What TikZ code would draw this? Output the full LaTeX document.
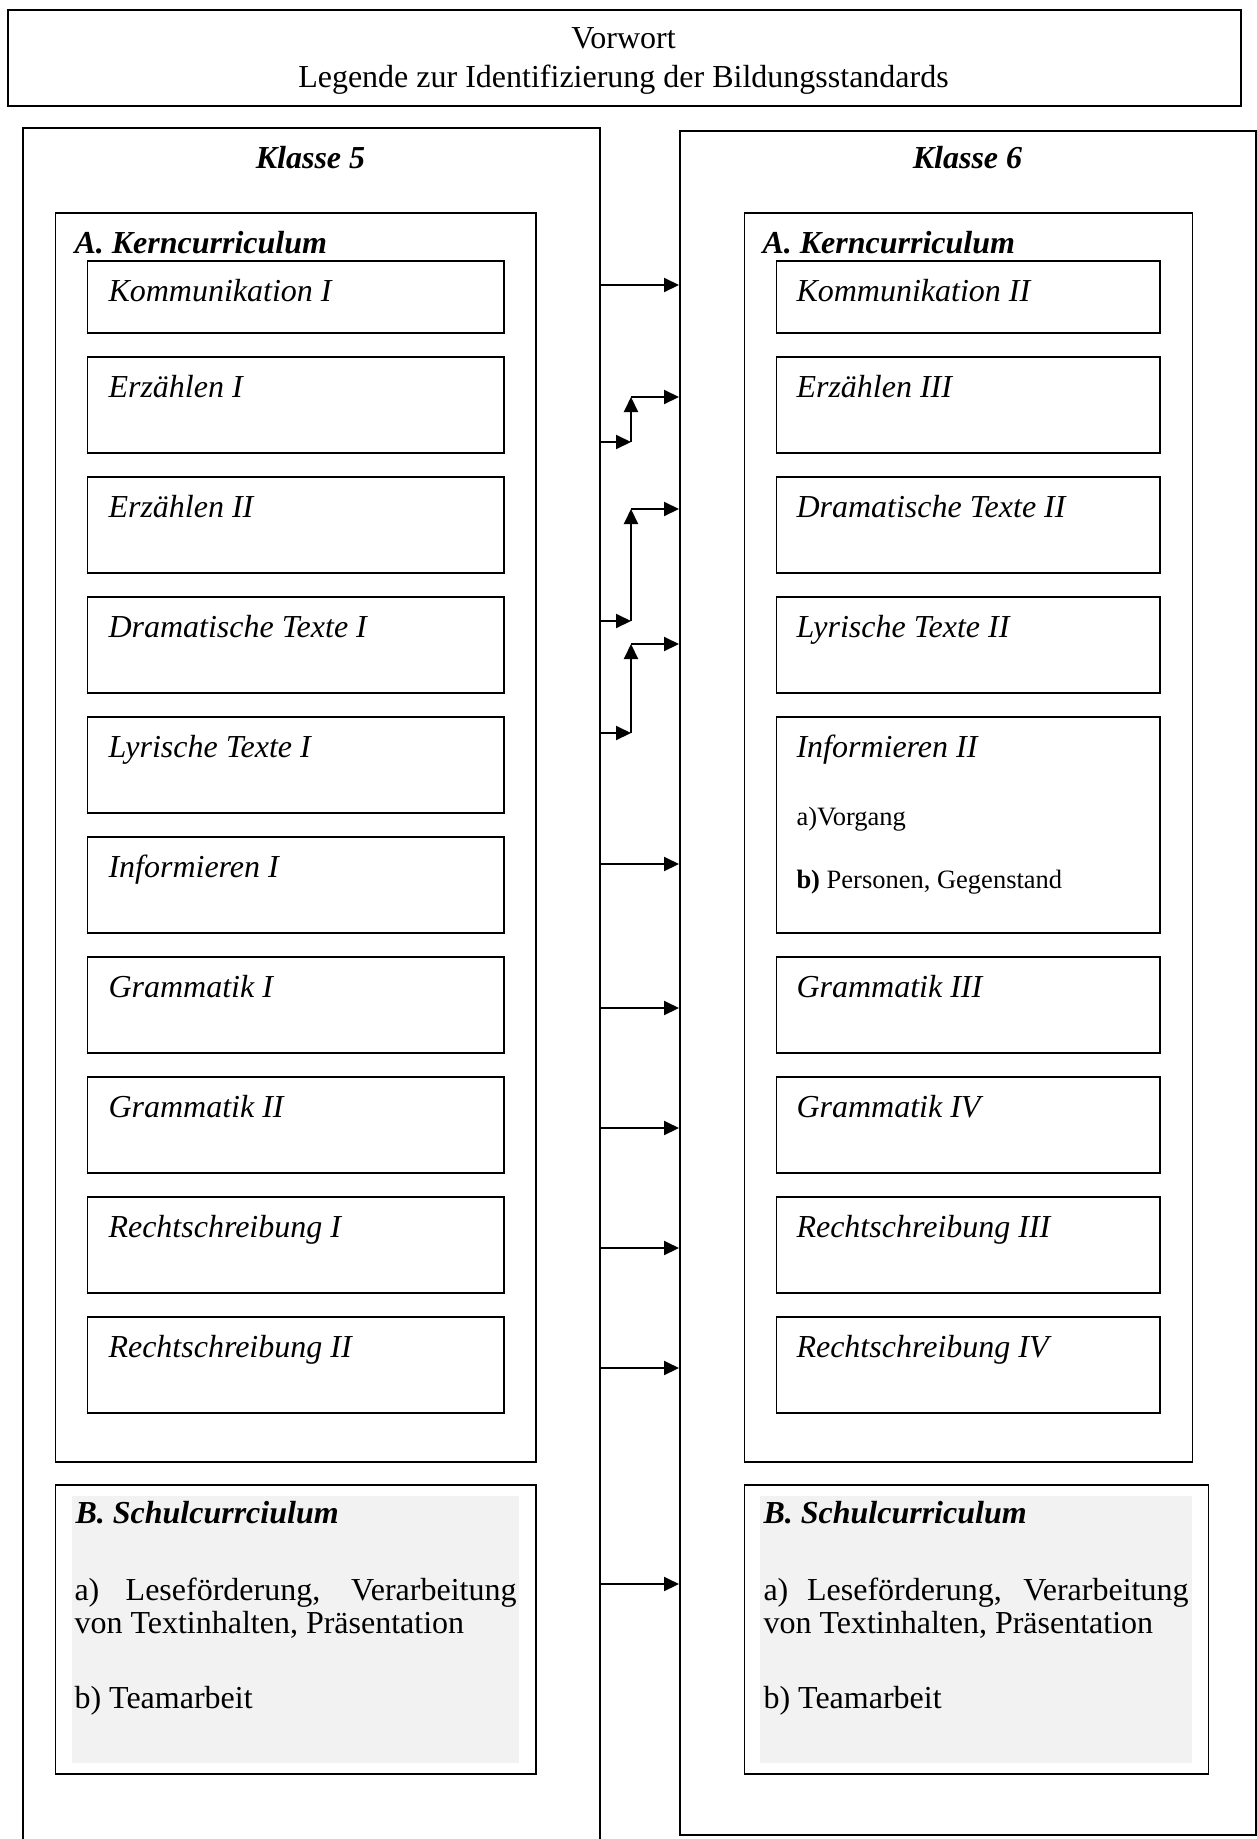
\documentclass[tikz,border=0pt]{standalone}
\usepackage{fontspec}
\setmainfont{Liberation Serif}
\usepackage{xcolor}
\usetikzlibrary{arrows.meta}
\usetikzlibrary{calc}

\definecolor{schulgrau}{HTML}{F2F2F2}
\def\px{0.4pt}

\tikzset{
  box/.style = {draw, line width=0.75pt, rectangle, inner sep=0pt, anchor=north west},
  thema/.style = {anchor=base west, inner sep=0pt, font=\itshape},
  kopf/.style = {inner sep=0pt, font=\bfseries\itshape},
  klein/.style = {anchor=base west, inner sep=0pt, font=\fontsize{10.6}{12}\selectfont},
  absatz/.style = {anchor=base west, inner sep=0pt, align=justify, font=\fontsize{12.8}{13.2}\selectfont},
  pfeil/.style = {line width=0.8pt, -{Triangle[length=6pt,width=5.6pt]}},
}

\begin{document}
\fontsize{12.8}{15.5}\selectfont
\begin{tikzpicture}[x=0.4pt, y=-0.4pt]
\useasboundingbox (0,0) rectangle (1256,1839);

% Kopfzeile
\node [box, minimum width=1233*\px, minimum height=96*\px] (vorwort) at (7,9) {};
\node [inner sep=0pt, align=center] (vorworttext) at (623.5,61)
  {Vorwort\\Legende zur Identifizierung der Bildungsstandards};

% Klassen
\node [box, minimum width=577*\px, minimum height=1800*\px] (k5) at (22,127) {};
\node [box, minimum width=576*\px, minimum height=1704*\px] (k6) at (679,130) {};
\node [kopf, anchor=base] (k5titel) at (310.5,169) {Klasse 5};
\node [kopf, anchor=base] (k6titel) at (967.5,169) {Klasse 6};

% A. Kerncurriculum
\node [box, minimum width=480.5*\px, minimum height=1249*\px] (kern5) at (54.5,212) {};
\node [box, minimum width=448*\px, minimum height=1249*\px] (kern6) at (743.5,212) {};
\node [kopf, anchor=base west] (kern5titel) at (74,253) {A. Kerncurriculum};
\node [kopf, anchor=base west] (kern6titel) at (762,253) {A. Kerncurriculum};

\foreach \n/\oben/\hoehe/\titel in {l1/260/72/Kommunikation I, l2/356/96/Erzählen I,
    l3/476/96/Erzählen II, l4/596/96/Dramatische Texte I, l5/716/96/Lyrische Texte I,
    l6/836/96/Informieren I, l7/956/96/Grammatik I, l8/1076/96/Grammatik II,
    l9/1196/96/Rechtschreibung I, l10/1316/96/Rechtschreibung II} {
  \node [box, minimum width=416.5*\px, minimum height=\hoehe*\px] (\n) at (86.5,\oben) {};
  \node [thema] at ($(\n.north west)+(21.5,41)$) {\titel};
}

\foreach \n/\oben/\hoehe/\titel in {r1/260/72/Kommunikation II, r2/356/96/Erzählen III,
    r3/476/96/Dramatische Texte II, r4/596/96/Lyrische Texte II, r5/716/216/Informieren II,
    r6/956/96/Grammatik III, r7/1076/96/Grammatik IV,
    r8/1196/96/Rechtschreibung III, r9/1316/96/Rechtschreibung IV} {
  \node [box, minimum width=383.5*\px, minimum height=\hoehe*\px] (\n) at (775.5,\oben) {};
  \node [thema] at ($(\n.north west)+(20.5,41)$) {\titel};
}
\node [klein] (vorgang) at ($(r5.north west)+(20.5,109)$) {a)Vorgang};
\node [klein] (personen) at ($(r5.north west)+(20.5,172)$) {\textbf{b)} Personen, Gegenstand};

% B. Schulcurriculum
\fill [schulgrau] (72,1496) rectangle (519,1763);
\fill [schulgrau] (760,1496) rectangle (1191.5,1763);
\node [box, minimum width=480.5*\px, minimum height=289*\px] (schul5) at (54.5,1484) {};
\node [box, minimum width=464*\px, minimum height=289*\px] (schul6) at (743.5,1484) {};
\node [kopf, anchor=base west] (schul5titel) at (75,1523) {B. Schulcurrciulum};
\node [kopf, anchor=base west] (schul6titel) at (763,1523) {B. Schulcurriculum};
\node [absatz, text width=442*\px] (lese5) at (74,1600)
  {a) Leseförderung, Verarbeitung von Textinhalten, Präsentation};
\node [absatz, text width=425*\px] (lese6) at (763,1600)
  {a) Leseförderung, Verarbeitung von Textinhalten, Präsentation};
\node [absatz] (team5) at (74,1708) {b) Teamarbeit};
\node [absatz] (team6) at (763,1708) {b) Teamarbeit};

% Pfeile
\foreach \y [count=\i] in {285,864,1008,1128,1248,1368,1584} {
  \coordinate (h\i) at (0,\y);
  \draw [pfeil] (k5.east |- h\i) -- (k6.west |- h\i);
}
\foreach \unten/\oben [count=\i] in {442/397, 621/509, 733/644} {
  \coordinate (u\i) at (631,\unten);
  \coordinate (o\i) at (631,\oben);
  \draw [pfeil] (k5.east |- u\i) -- (u\i);
  \draw [pfeil] (u\i) -- (o\i);
  \draw [pfeil] (o\i) -- (k6.west |- o\i);
}
\end{tikzpicture}
\end{document}
